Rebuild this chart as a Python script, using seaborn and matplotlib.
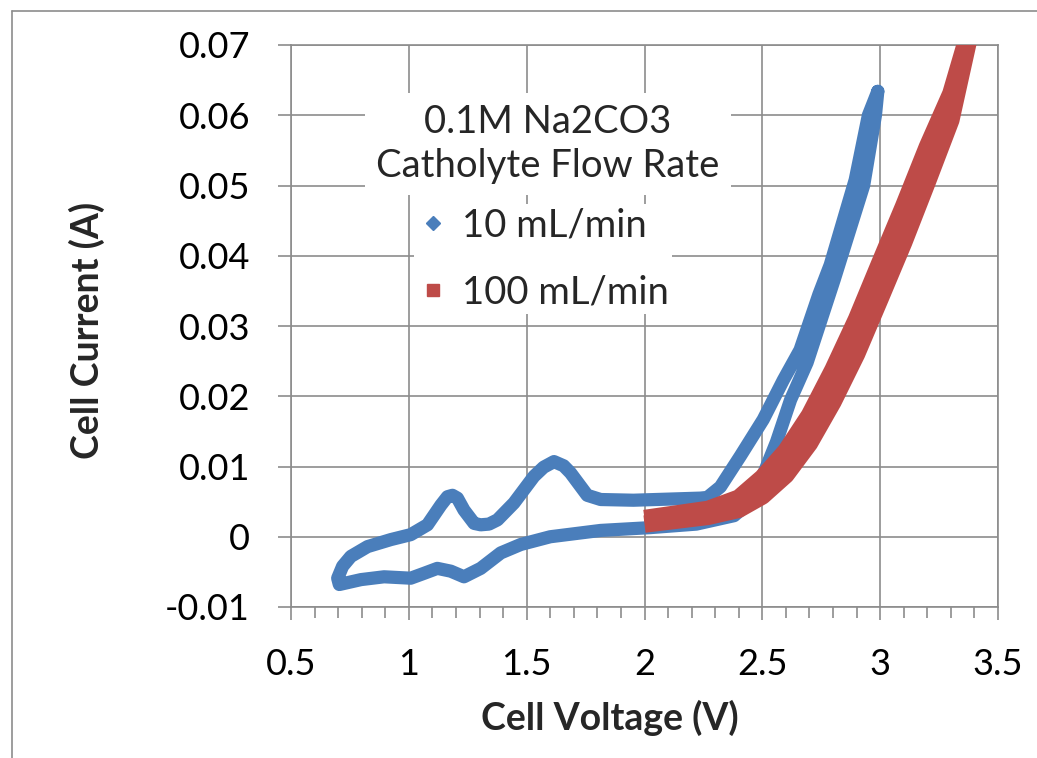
import numpy as np
import pandas as pd
import seaborn as sns
import matplotlib
matplotlib.use("Agg")
import matplotlib.pyplot as plt
from matplotlib.lines import Line2D
from matplotlib.ticker import MultipleLocator

# ---------------- data ----------------
# 10 mL/min : closed CV loop, starting at the high-voltage tip, return branch,
# lower branch down to 0.7 V, then upper branch back up to the tip
blue_v = [2.99, 2.98, 2.93, 2.805, 2.69, 2.62, 2.56, 2.50, 2.45, 2.38, 2.22,
          2.025, 1.814, 1.60, 1.475, 1.39, 1.305, 1.234, 1.178, 1.121, 1.065,
          1.008, 0.895, 0.797, 0.705,
          0.698, 0.719, 0.754, 0.825, 0.924, 1.008, 1.079, 1.136, 1.164, 1.185, 1.206,
          1.234, 1.277, 1.305, 1.34, 1.376, 1.446, 1.531, 1.572, 1.616, 1.657, 1.686,
          1.757, 1.814, 1.953, 2.237,
          2.267, 2.322, 2.407, 2.504, 2.589, 2.66, 2.74, 2.788, 2.894, 2.95, 2.99]
blue_i = [0.0634, 0.060, 0.050, 0.0366, 0.0248, 0.0195, 0.0135, 0.0085, 0.0050, 0.0030, 0.0018,
          0.0013, 0.0009, 0.0000, -0.0011, -0.0023, -0.0045, -0.0057, -0.0049, -0.0045, -0.0052,
          -0.0059, -0.0057, -0.0061, -0.0068,
          -0.0059, -0.0042, -0.0028, -0.0014, -0.0004, 0.0003, 0.0017, 0.0045, 0.0057, 0.0059, 0.0055,
          0.0038, 0.0019, 0.0017, 0.0018, 0.0024, 0.0048, 0.0086, 0.0099, 0.0107, 0.0101, 0.0091,
          0.0059, 0.0053, 0.0052, 0.0055,
          0.0056, 0.0071, 0.0115, 0.0167, 0.0223, 0.0266, 0.0345, 0.0387, 0.0508, 0.0600, 0.0634]

# 100 mL/min : forward (lower) branch up to the tip, then return (upper) branch
red_v = [2.00, 2.27, 2.40, 2.50, 2.60, 2.70, 2.80, 2.90, 3.00, 3.10, 3.20, 3.30, 3.372,
         3.362, 3.30, 3.20, 3.10, 3.00, 2.90, 2.80, 2.70, 2.60, 2.50, 2.40, 2.27, 2.00]
red_i = [0.0018, 0.0029, 0.0039, 0.0058, 0.0088, 0.0133, 0.0192, 0.0260, 0.0339, 0.0419, 0.0505, 0.0593, 0.0702,
         0.0702, 0.0631, 0.0555, 0.0471, 0.0391, 0.0310, 0.0238, 0.0173, 0.0122, 0.0084, 0.0055, 0.0039, 0.0026]

series_names = ["10 mL/min", "100 mL/min"]
legend_title = "0.1M Na2CO3\nCatholyte Flow Rate"
x_label = "Cell Voltage (V)"
y_label = "Cell Current (A)"
x_ticks = [0.5, 1.0, 1.5, 2.0, 2.5, 3.0, 3.5]
x_tick_labels = ["0.5", "1", "1.5", "2", "2.5", "3", "3.5"]
y_ticks = [-0.01, 0.0, 0.01, 0.02, 0.03, 0.04, 0.05, 0.06, 0.07]
y_tick_labels = ["-0.01", "0", "0.01", "0.02", "0.03", "0.04", "0.05", "0.06", "0.07"]

# ---------------- style ----------------
sns.set_style("white")
plt.rcParams["font.family"] = ["Lato", "DejaVu Sans"]

BLUE = "#4A7EBB"
RED = "#BE4B48"
GRID = "#8C8C8C"
W, H = 1037, 758

df_blue = pd.DataFrame({"V": blue_v, "I": blue_i, "series": series_names[0]})
df_red = pd.DataFrame({"V": red_v, "I": red_i, "series": series_names[1]})

fig = plt.figure(figsize=(W / 100, H / 100), dpi=100)
fig.patch.set_facecolor("white")
ax = fig.add_axes([291 / W, 1 - 607 / H, (998 - 291) / W, (607 - 45) / H])

sns.lineplot(data=df_blue, x="V", y="I", sort=False, estimator=None, ax=ax,
             color=BLUE, lw=9.5, solid_capstyle="round", solid_joinstyle="round",
             legend=False, zorder=3)
sns.lineplot(data=df_red, x="V", y="I", sort=False, estimator=None, ax=ax,
             color=RED, lw=12.5, solid_capstyle="butt", solid_joinstyle="round",
             legend=False, zorder=4)

ax.set_xlim(0.5, 3.5)
ax.set_ylim(-0.01, 0.07)
ax.set_xticks(x_ticks)
ax.set_xticklabels(x_tick_labels)
ax.set_yticks(y_ticks)
ax.set_yticklabels(y_tick_labels)
ax.xaxis.set_minor_locator(MultipleLocator(0.1))

ax.grid(True, which="major", color=GRID, lw=1.2)
ax.set_axisbelow(True)
for s in ax.spines.values():
    s.set_color(GRID)
    s.set_linewidth(1.2)

ax.tick_params(axis="both", which="major", direction="out", length=9.5, width=1.2,
               color=GRID, labelsize=26, pad=20, labelcolor="black")
ax.tick_params(axis="x", which="minor", direction="out", length=8, width=1.2,
               color=GRID, bottom=True)
ax.tick_params(axis="x", which="both", bottom=True)
ax.tick_params(axis="y", which="major", left=True)

ax.set_xlabel(x_label, fontsize=27, fontweight="bold")
ax.set_ylabel(y_label, fontsize=27, fontweight="bold")
ax.xaxis.set_label_coords((610 - 291) / (998 - 291), (607 - 718) / (607 - 45))
ax.xaxis.label.set_va("center")
ax.yaxis.set_label_coords((87 - 291) / (998 - 291), (607 - 330) / (607 - 45))
ax.yaxis.label.set_va("center")

# title text box (white background hides gridlines)
fig.text(548 / W, 1 - 144 / H, legend_title, ha="center", va="center",
         multialignment="center", fontsize=27.5, linespacing=1.3,
         bbox=dict(facecolor="white", edgecolor="none", pad=8), zorder=5)

handles = [Line2D([], [], ls="none", marker="D", color=BLUE, markersize=7),
           Line2D([], [], ls="none", marker="s", color=RED, markersize=8)]
leg = ax.legend(handles, series_names, loc="upper left",
                bbox_to_anchor=(414 / W, 1 - 204 / H), bbox_transform=fig.transFigure,
                frameon=True, fontsize=27.5, handlelength=0.8, handletextpad=0.35,
                labelspacing=0.8, borderpad=0.1, borderaxespad=0)
leg.get_frame().set_facecolor("white")
leg.get_frame().set_edgecolor("none")
leg.get_frame().set_alpha(1)
leg.set_zorder(6)

# outer chart-area border (left and top edges visible)
fig.add_artist(Line2D([12 / W, 12 / W], [0, 1 - 11 / H], transform=fig.transFigure,
                      color=GRID, lw=1.2))
fig.add_artist(Line2D([12 / W, 1], [1 - 11 / H, 1 - 11 / H], transform=fig.transFigure,
                      color=GRID, lw=1.2))

fig.savefig("out.png", dpi=100, facecolor="white")
